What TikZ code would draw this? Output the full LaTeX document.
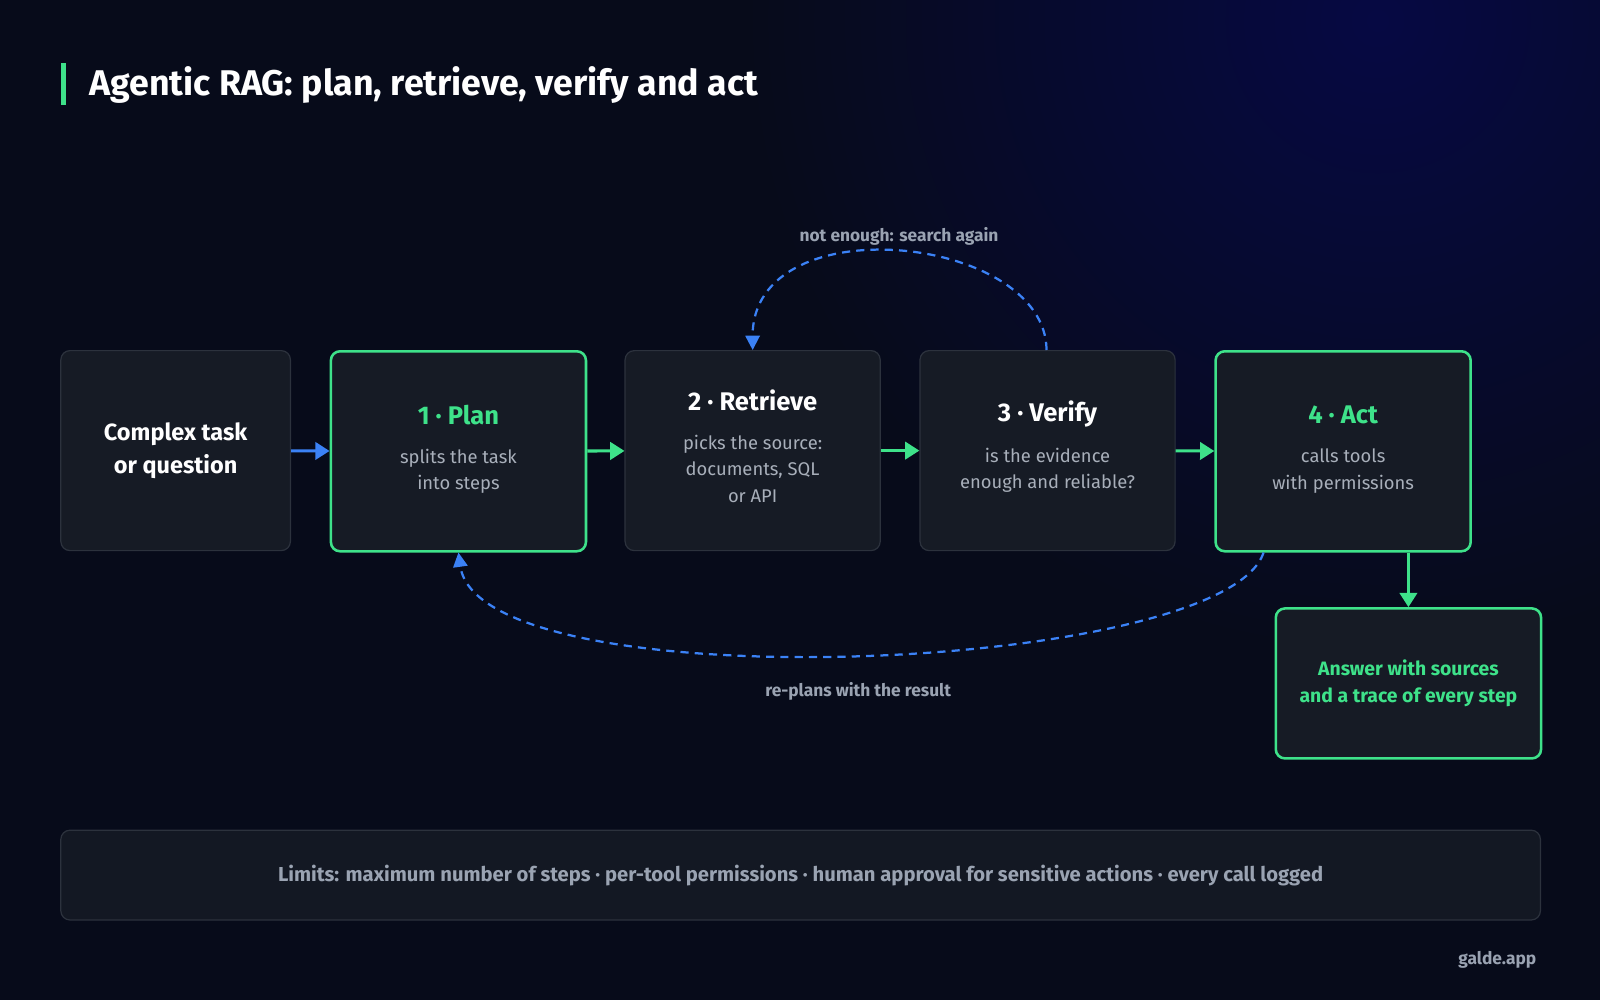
\documentclass[tikz,border=0pt]{standalone}
\usepackage{fontspec}
\setmainfont{Fira Sans}
\usetikzlibrary{arrows.meta,positioning}
\definecolor{bgnavy}{HTML}{070B1A}
\definecolor{boxfill}{HTML}{161B25}
\definecolor{boxline}{HTML}{2C323D}
\definecolor{accgreen}{HTML}{3EE28A}
\definecolor{accblue}{HTML}{3B82F6}
\definecolor{softgray}{HTML}{9AA3B2}
\definecolor{subgray}{HTML}{A8AFBA}
\tikzset{
  stage/.style={draw=boxline, line width=1.2pt, fill=boxfill, rounded corners=9pt,
    minimum width=250pt, minimum height=196pt, align=center, anchor=north west},
  active/.style={stage, draw=accgreen, line width=2.5pt},
  flow/.style={-{Triangle[length=14pt,width=17pt]}, accgreen, line width=3pt},
  loop/.style={-{Triangle[length=14pt,width=14pt]}, accblue, line width=2.2pt, dash pattern=on 8pt off 6pt},
  note/.style={text=softgray, font=\fontsize{17}{20}\selectfont\bfseries}
}
\begin{document}
\begin{tikzpicture}[x=1pt,y=-1pt]
  \fill[bgnavy] (0,0) rectangle (1568,980);
  \useasboundingbox (0,0) rectangle (1568,980);
  \begin{scope}
    \clip (0,0) rectangle (1568,980);
    \shade[inner color=blue!18!bgnavy, outer color=bgnavy] (1350,20) circle (620pt);
  \end{scope}
  % title
  \fill[accgreen] (60,62) rectangle (65,103);
  \node[anchor=west, text=white, font=\fontsize{35}{40}\selectfont\bfseries] (title) at (84,83) {Agentic RAG: plan, retrieve, verify and act};
  % stages
  \node[stage, minimum width=225pt] (task) at (59,343) {};
  \node[text=white, font=\fontsize{23}{32}\selectfont\bfseries, align=center] at (task.center) {Complex task\\or question};
  \node[active] (plan) at (323,343) {};
  \node[stage] (retr) at (612,343) {};
  \node[stage] (veri) at (901,343) {};
  \node[active] (act) at (1190,343) {};
  \node[active, minimum width=260pt, minimum height=147pt] (ans) at (1249,595) {};
  \node[text=accgreen, font=\fontsize{19}{27}\selectfont\bfseries, align=center] at (ans.center) {Answer with sources\\and a trace of every step};
  % texts inside stages
  \foreach \n/\t/\c/\d/\o in {plan/1 · Plan/accgreen/{splits the task\\into steps}/0,
      retr/2 · Retrieve/white/{picks the source:\\documents, SQL\\or API}/13,
      veri/3 · Verify/white/{is the evidence\\enough and reliable?}/0,
      act/4 · Act/accgreen/{calls tools\\with permissions}/0} {
    \node[text=\c, font=\fontsize{25}{30}\selectfont\bfseries] at ([yshift=36pt+\o pt]\n.center) {\t};
    \node[text=subgray, font=\fontsize{18}{26}\selectfont, align=center, anchor=north] at ([yshift=6pt+\o pt]\n.center) {\d};
  }
  % connectors
  \draw[flow, accblue] (task) -- (plan);
  \draw[flow] (plan) -- (retr);
  \draw[flow] (retr) -- (veri);
  \draw[flow] (veri) -- (act);
  \draw[flow] (act.south -| ans.north) -- (ans.north);
  \draw[loop] ([xshift=-1pt]veri.north) .. controls (1025,230) and (737,200) .. (retr.north);
  \node[note] (again) at (881,232) {not enough: search again};
  \draw[loop] ([xshift=-78pt]act.south) .. controls (1200,660) and (470,690) .. (plan.south);
  \node[note] (replan) at (841,678) {re-plans with the result};
  % limits
  \node[draw=boxline, line width=1.2pt, fill=boxfill!80!bgnavy, rounded corners=9pt,
    minimum width=1450pt, minimum height=88pt, anchor=north west,
    text=softgray, font=\fontsize{19.8}{22}\selectfont\bfseries] (limits) at (59,813)
    {Limits: maximum number of steps · per-tool permissions · human approval for sensitive actions · every call logged};
  \node[note, anchor=east] (brand) at (1509,941) {galde.app};
\end{tikzpicture}
\end{document}
